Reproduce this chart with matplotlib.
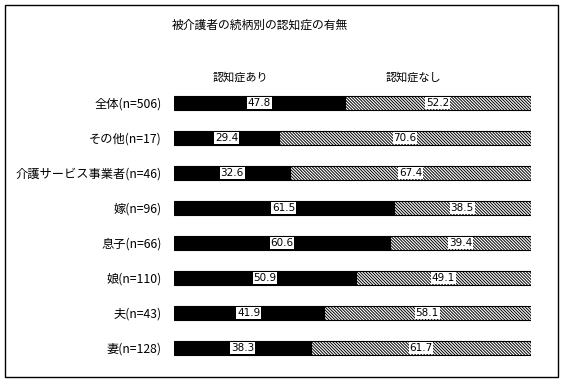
import matplotlib
matplotlib.use("Agg")
import matplotlib.pyplot as plt
from matplotlib.patches import Rectangle

plt.rcParams['font.family'] = ['Noto Sans CJK JP', 'DejaVu Sans']
plt.rcParams['hatch.linewidth'] = 0.7

categories = ["全体(n=506)", "その他(n=17)", "介護サービス事業者(n=46)", "嫁(n=96)",
              "息子(n=66)", "娘(n=110)", "夫(n=43)", "妻(n=128)"]
with_dementia = [47.8, 29.4, 32.6, 61.5, 60.6, 50.9, 41.9, 38.3]
without_dementia = [52.2, 70.6, 67.4, 38.5, 39.4, 49.1, 58.1, 61.7]
series_names = ["認知症あり", "認知症なし"]
title = "被介護者の続柄別の認知症の有無"

W, H = 566, 383
fig = plt.figure(figsize=(W / 100, H / 100), dpi=100)
fig.patch.set_facecolor('white')

# outer frame
fig.patches.append(Rectangle((5 / W, 1 - 377 / H), 553 / W, 372 / H, transform=fig.transFigure,
                             fill=False, edgecolor='black', linewidth=1.0))

left, right = 174 / W, 531 / W
top_px, bot_px = 85.5, 365.5
ax = fig.add_axes([left, 1 - bot_px / H, right - left, (bot_px - top_px) / H])

y = list(range(len(categories)))
h = 0.4
ax.barh(y, with_dementia, height=h, color='black', edgecolor='black', linewidth=0.8)
ax.barh(y, without_dementia, left=with_dementia, height=h, color='white',
        edgecolor='black', linewidth=0.8, hatch='\\' * 11)

for i in y:
    a, b = with_dementia[i], without_dementia[i]
    for xc, v in ((a / 2, a), (a + b / 2, b)):
        ax.text(xc, i, f"{v}", ha='center', va='center', fontsize=7.5, color='black',
                family=['DejaVu Sans'],
                bbox=dict(facecolor='white', edgecolor='none', pad=0.5))

ax.set_xlim(0, 100)
ax.set_ylim(len(categories) - 0.5, -0.5)
ax.set_yticks(y)
ax.set_yticklabels(categories, fontsize=8.8)
ax.tick_params(axis='y', length=0, pad=9)
ax.set_xticks([])
for s in ax.spines.values():
    s.set_visible(False)

fig.text(260 / W, 1 - 25 / H, title, ha='center', va='center', fontsize=8.5)
fig.text(240 / W, 1 - 77 / H, series_names[0], ha='center', va='center', fontsize=8)
fig.text(413 / W, 1 - 77 / H, series_names[1], ha='center', va='center', fontsize=8)

fig.savefig("out.png", dpi=100, facecolor='white')
